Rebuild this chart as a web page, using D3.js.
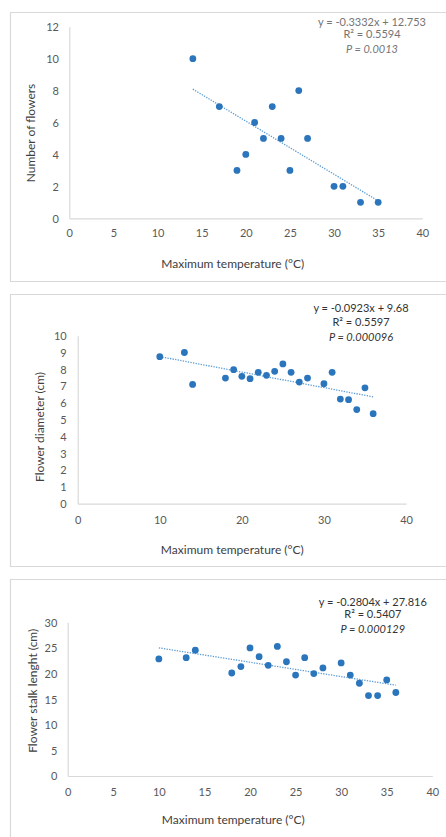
<!DOCTYPE html>
<html>
<head>
<meta charset="utf-8">
<script src="https://cdn.jsdelivr.net/npm/d3@7"></script>
<style>
  html, body { margin: 0; padding: 0; background: #fff; }
  svg { display: block; font-family: Lato, "Open Sans", sans-serif; }
</style>
</head>
<body>
<div id="chart"></div>
<script>
// data
var tempFlowers = [14, 17, 19, 20, 21, 22, 23, 24, 25, 26, 27, 30, 31, 33, 35];
var numFlowers = [10, 7, 3, 4, 6, 5, 7, 5, 3, 8, 5, 2, 2, 1, 1];

var tempDiameter = [10, 13, 14, 18, 19, 20, 21, 22, 23, 24, 25, 26, 27, 28, 30, 31, 32, 33, 34, 35, 36];
var flowerDiameter = [8.75, 9.0, 7.1, 7.48, 7.98, 7.58, 7.44, 7.82, 7.64, 7.88, 8.32, 7.82, 7.24, 7.48, 7.14, 7.82, 6.23, 6.19, 5.6, 6.9, 5.36];

var tempStalk = [10, 13, 14, 18, 19, 20, 21, 22, 23, 24, 25, 26, 27, 28, 30, 31, 32, 33, 34, 35, 36];
var stalkLength = [22.85, 23.1, 24.55, 20.1, 21.35, 25.0, 23.3, 21.6, 25.3, 22.3, 19.7, 23.1, 20.0, 21.1, 22.07, 19.7, 18.1, 15.7, 15.7, 18.75, 16.3];

var slopes = [-0.3332, -0.0923, -0.2804];
var intercepts = [12.753, 9.68, 27.816];
var eqLabels = ["y = -0.3332x + 12.753", "y = -0.0923x + 9.68", "y = -0.2804x + 27.816"];
var r2Labels = ["R\u00b2 = 0.5594", "R\u00b2 = 0.5597", "R\u00b2 = 0.5407"];
var pLabels = ["P = 0.0013", "P = 0.000096", "P = 0.000129"];
var yTitles = ["Number of flowers", "Flower diameter (cm)", "Flower stalk lenght (cm)"];
var xTitle = "Maximum temperature (\u00b0C)";

var xTicksA = [0, 5, 10, 15, 20, 25, 30, 35, 40];
var xTicksB = [0, 10, 20, 30, 40];
var yTicksA = [0, 2, 4, 6, 8, 10, 12];
var yTicksB = [0, 1, 2, 3, 4, 5, 6, 7, 8, 9, 10];
var yTicksC = [0, 5, 10, 15, 20, 25, 30];

var W = 446, H = 837;
var svg = d3.select("#chart").append("svg")
    .attr("width", W)
    .attr("height", H);
svg.append("rect").attr("width", W).attr("height", H).attr("fill", "#fff");

var panels = [
    {xs: tempFlowers, ys: numFlowers, xTicks: xTicksA, yTicks: yTicksA,
     box: [12, 281], plot: [69.3, 422.3, 26.7, 218.3],
     yLabRight: 59, yTitleX: 30.7, yTitleY: 133, xLabY: 233, xTitleX: 232.7, xTitleY: 264,
     annX: 372, annY: [21.7, 34.3, 49.3], annColor: "#757575"},
    {xs: tempDiameter, ys: flowerDiameter, xTicks: xTicksB, yTicks: yTicksB,
     box: [294, 566], plot: [77.7, 406, 335.7, 503.7],
     yLabRight: 66.7, yTitleX: 40, yTitleY: 427, xLabY: 520, xTitleX: 232.3, xTitleY: 549.3,
     annX: 361, annY: [308.3, 322.3, 336.7], annColor: "#333"},
    {xs: tempStalk, ys: stalkLength, xTicks: xTicksA, yTicks: yTicksC,
     box: [579, 900], plot: [67.7, 432.3, 622.3, 776],
     yLabRight: 57.3, yTitleX: 32.3, yTitleY: 690.8, xLabY: 791.7, xTitleX: 233.3, xTitleY: 820,
     annX: 372.8, annY: [601.7, 614.3, 629], annColor: "#333"}
];

panels.forEach(function(p, i) {
    var g = svg.append("g");

    // chart area border (open on the right, like the cropped original)
    g.append("path")
        .attr("d", "M" + (W + 2) + "," + (p.box[0] + 0.5) + "H10.5V" + (p.box[1] + 0.5) + "H" + (W + 2))
        .attr("fill", "none")
        .attr("stroke", "#d9d9d9")
        .attr("stroke-width", 1.2);

    var x = d3.scaleLinear()
        .domain([0, 40])
        .range([p.plot[0], p.plot[1]]);
    var y = d3.scaleLinear()
        .domain([0, d3.max(p.yTicks)])
        .range([p.plot[3], p.plot[2]]);

    // axes
    var xAxis = g.append("g")
        .attr("transform", "translate(0," + p.plot[3] + ")")
        .call(d3.axisBottom(x).tickValues(p.xTicks).tickSize(0).tickPadding(0));
    var yAxis = g.append("g")
        .attr("transform", "translate(" + p.plot[0] + ",0)")
        .call(d3.axisLeft(y).tickValues(p.yTicks).tickSize(0).tickPadding(0));

    [xAxis, yAxis].forEach(function(a) {
        a.select(".domain").attr("stroke", "#d9d9d9").attr("stroke-width", 1.2);
        a.selectAll("text")
            .attr("fill", "#595959")
            .style("font-size", "11px")
            .style("font-family", "Lato, sans-serif");
    });
    xAxis.selectAll("text")
        .attr("y", p.xLabY - p.plot[3])
        .attr("dy", "0.35em");
    yAxis.selectAll("text")
        .attr("x", p.yLabRight - p.plot[0])
        .attr("dy", "0.35em");

    // axis titles
    g.append("text")
        .attr("x", p.xTitleX)
        .attr("y", p.xTitleY)
        .attr("dy", "0.35em")
        .attr("text-anchor", "middle")
        .attr("fill", "#404040")
        .style("font-size", "12px")
        .text(xTitle);
    g.append("text")
        .attr("transform", "translate(" + p.yTitleX + "," + p.yTitleY + ") rotate(-90)")
        .attr("dy", "0.35em")
        .attr("text-anchor", "middle")
        .attr("fill", "#404040")
        .style("font-size", "12px")
        .text(yTitles[i]);

    // linear trendline over the data's x range
    var ext = d3.extent(p.xs);
    g.append("line")
        .attr("x1", x(ext[0]))
        .attr("y1", y(slopes[i] * ext[0] + intercepts[i]))
        .attr("x2", x(ext[1]))
        .attr("y2", y(slopes[i] * ext[1] + intercepts[i]))
        .attr("stroke", "#5b9bd5")
        .attr("stroke-width", 1.3)
        .attr("stroke-dasharray", "1.3 1.3");

    // points
    var pts = p.xs.map(function(v, k) { return {x: v, y: p.ys[k]}; });
    g.selectAll("circle")
        .data(pts)
        .enter()
        .append("circle")
        .attr("cx", function(d) { return x(d.x); })
        .attr("cy", function(d) { return y(d.y); })
        .attr("r", 3.4)
        .attr("fill", "#2a75bb");

    // equation block
    var lines = [eqLabels[i], r2Labels[i], pLabels[i]];
    g.selectAll("text.ann")
        .data(lines)
        .enter()
        .append("text")
        .attr("class", "ann")
        .attr("x", p.annX)
        .attr("y", function(d, k) { return p.annY[k]; })
        .attr("dy", "0.35em")
        .attr("text-anchor", "middle")
        .attr("fill", p.annColor)
        .style("font-size", "11px")
        .style("font-style", function(d, k) { return k == 2 ? "italic" : "normal"; })
        .text(function(d) { return d; });
});
</script>
</body>
</html>
